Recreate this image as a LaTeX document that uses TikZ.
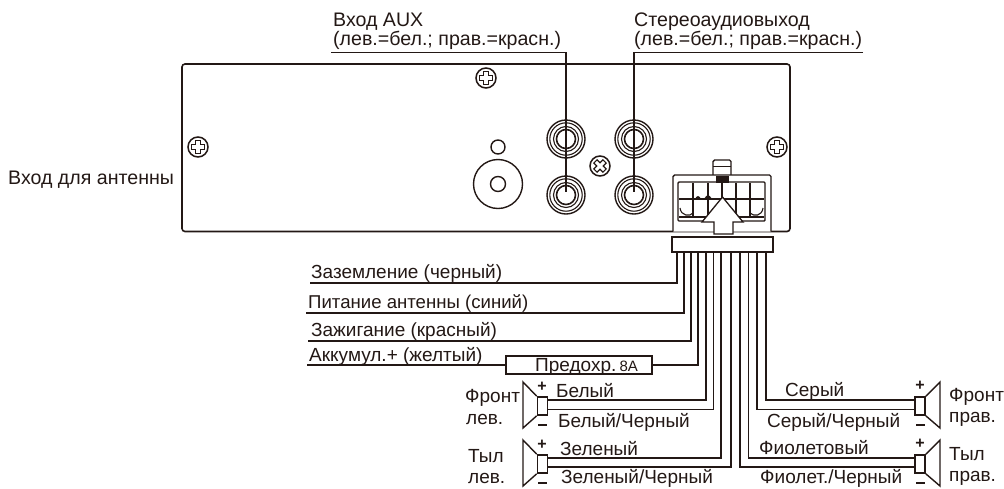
\documentclass[tikz,border=0pt]{standalone}
\usepackage{fontspec}
\setmainfont{Liberation Sans}
\definecolor{ink}{HTML}{231815}
\tikzset{
 lbl/.style={font=\fontsize{19}{21}\selectfont,text=ink,inner sep=0pt,anchor=base west},
 toplbl/.style={lbl,font=\fontsize{19.6}{21}\selectfont},
 wire/.style={draw=ink,line width=1.5pt},
 thick wire/.style={draw=ink,line width=1.9pt},
 part/.style={draw=ink,line width=1.6pt,fill=white},
 ring/.style={draw=ink,line width=1.1pt},
 sign/.style={font=\bfseries\fontsize{16}{18}\selectfont,text=ink,inner sep=0pt},
}
\newcommand{\rcajack}[2]{%
 \draw[ring,line width=1.4pt] (#1) circle (19);
 \draw[ring] (#1) circle (16.2);
 \draw[ring] (#1) circle (12.5);
 \draw[ring,line width=1.6pt] (#1) circle (9.5);
}
\newcommand{\plusscrew}[1]{%
 \draw[ink,line width=1.5pt] (#1) circle (10);
 \draw[ink,line width=1.1pt,shift={(#1)}] (-2.5,-6.5)--(2.5,-6.5)--(2.5,-2.5)--(6.5,-2.5)--(6.5,2.5)--(2.5,2.5)--(2.5,6.5)--(-2.5,6.5)--(-2.5,2.5)--(-6.5,2.5)--(-6.5,-2.5)--(-2.5,-2.5)--cycle;
}
\newcommand{\spkL}[2]{% name, y offset
 \node[part,minimum width=10pt,minimum height=18pt,inner sep=0pt] (#1) at (542.5,406+#2) {};
 \draw[ink,line width=1.4pt] (#1.north west) -- (523,382+#2) -- (523,428+#2) -- (#1.south west);
 \node[sign] (#1p) at (542,387+#2) {+};
 \fill[ink] (538,423.5+#2) rectangle (547,425.5+#2);
}
\newcommand{\spkR}[2]{%
 \node[part,minimum width=10pt,minimum height=18pt,inner sep=0pt] (#1) at (920,406+#2) {};
 \draw[ink,line width=1.4pt] (#1.north east) -- (940,382+#2) -- (940,428+#2) -- (#1.south east);
 \node[sign] (#1p) at (920,386+#2) {+};
 \fill[ink] (916,423.5+#2) rectangle (925,425.5+#2);
}
\begin{document}
\begin{tikzpicture}[x=1pt,y=-1pt]
\useasboundingbox (0,0) rectangle (1004,488);
% panel
\draw[ink,line width=1.6pt,rounded corners=3pt] (182,64) rectangle (790,231.5);
\plusscrew{486,78}
\plusscrew{198,147}
\plusscrew{777,147}
% X screw
\draw[ink,line width=1.5pt] (600,166) circle (10);
\draw[ink,line width=1.1pt,shift={(600,166)},rotate=45] (-2.3,-6.5)--(2.3,-6.5)--(2.3,-2.3)--(6.5,-2.3)--(6.5,2.3)--(2.3,2.3)--(2.3,6.5)--(-2.3,6.5)--(-2.3,2.3)--(-6.5,2.3)--(-6.5,-2.3)--(-2.3,-2.3)--cycle;
% antenna
\draw[ink,line width=1.4pt] (498,147) circle (7);
\draw[ink,line width=1.4pt] (498,184) circle (24.5);
\draw[ink,line width=1.4pt] (498,184) circle (7.5);
% RCA
\rcajack{566,139}{}
\rcajack{566,195}{}
\rcajack{634,139}{}
\rcajack{634,195}{}
% labels top
\node[toplbl] (aux1) at (333,26) {Вход AUX};
\node[toplbl] (aux2) at (333,45) {(лев.=бел.; прав.=красн.)};
\node[toplbl] (st1) at (634,26) {Стереоаудиовыход};
\node[toplbl] (st2) at (634,45) {(лев.=бел.; прав.=красн.)};
\coordinate (auxL) at (331,52.5);
\coordinate (auxR) at (566,52.5);
\coordinate (stL) at (634,52.5);
\coordinate (stR) at (863,52.5);
\coordinate (auxEnd) at (566,192);
\coordinate (stEnd) at (634,192);
\draw[wire] (auxL) -- (auxR) -- (auxEnd);
\draw[wire] (stR) -- (stL) -- (stEnd);
\node[toplbl] (ant) at (8,184) {Вход для антенны};
% connector housing
\draw[part,line width=1.4pt,rounded corners=1.5pt] (713,175) -- (713,160) -- (731,160) -- (731,175);
\draw[ink,line width=1pt] (713,166.5) -- (731,166.5);
\draw[ink,line width=1.4pt,rounded corners=1.5pt,fill=white] (673,231.5) -- (673,175) -- (771,175) -- (771,231.5);
\draw[ink,line width=1.4pt,rounded corners=1pt] (678,182) rectangle (765,221);
\fill[ink] (716,176) rectangle (729,183);
\foreach \x in {693,708,722,736,750} \draw[ink,line width=1.5pt] (\x,183) -- (\x,217);
\draw[ink,line width=1.3pt] (679,199) -- (764,199);
\draw[ink,line width=1.3pt] (679,217) -- (764,217);
\draw[ink,line width=1.1pt] (680,208) .. controls (681,216) and (690,217) .. (693,213);
\draw[ink,line width=1.1pt] (750,213) .. controls (754,217) and (762,216) .. (763,208);
\fill[ink] (695,199) .. controls (696,197) and (697,196) .. (698,196) .. controls (699,196) and (700,197) .. (701,199) -- cycle;
\fill[ink] (704,199) .. controls (705,197) and (707,195) .. (708,195) .. controls (709,195) and (711,197) .. (712,199) -- cycle;
% arrow
\draw[ink,line width=1.3pt,fill=white] (722.5,197) -- (743,222) -- (733,222) -- (733,234) -- (714,234) -- (714,222) -- (702,222) -- cycle;
% plug
\node[part,minimum width=101pt,minimum height=15pt,inner sep=0pt] (plug) at (722.5,244.5) {};
\coordinate (p1) at (677,252);
\coordinate (p2) at (684,252);
\coordinate (p3) at (691,252);
\coordinate (p4) at (698,252);
\coordinate (p5) at (706,252);
\coordinate (p6) at (713.5,252);
\coordinate (p7) at (721,252);
\coordinate (p8) at (731,252);
\coordinate (p9) at (740,252);
\coordinate (p10) at (748.5,252);
\coordinate (p11) at (757,252);
\coordinate (p12) at (766,252);
% left labelled wires
\coordinate (e1) at (310,283);
\coordinate (e2) at (306,313);
\coordinate (e3) at (308,341);
\coordinate (e4) at (307,365);
\draw[wire] (p1) |- (e1);
\draw[wire] (p2) |- (e2);
\draw[thick wire] (p3) |- (e3);
\node[lbl] (gnd) at (311,278) {Заземление (черный)};
\node[lbl,font=\fontsize{18.6}{21}\selectfont] (antp) at (308,308) {Питание антенны (синий)};
\node[lbl] (ign) at (311,336) {Зажигание (красный)};
\node[lbl] (bat) at (309,361) {Аккумул.+ (желтый)};
% fuse
\node[part,minimum width=146pt,minimum height=18pt,inner sep=0pt] (fuse) at (579,365) {};
\node[lbl] (ftxt) at (535,371.5) {Предохр.\,{\fontsize{15}{17}\selectfont 8А}};
\draw[wire] (e4) -- (fuse.west);
\draw[wire] (p4) |- (fuse.east);
% speakers
\spkL{fl}{0}
\spkL{rl}{58}
\spkR{fr}{0}
\spkR{rr}{58}
\draw[thick wire] (p5) |- (fl.east |- 0,400);
\draw[wire] (p6) |- (fl.east |- 0,409.5);
\draw[thick wire] (p7) |- (rl.east |- 0,458);
\draw[thick wire] (p8) |- (rl.east |- 0,467);
\draw[wire] (p9) |- (rr.west |- 0,467);
\draw[wire] (p10) |- (rr.west |- 0,458);
\draw[wire] (p11) |- (fr.west |- 0,409.5);
\draw[wire] (p12) |- (fr.west |- 0,400);
% speaker labels
\node[lbl] (t1) at (556,397) {Белый};
\node[lbl] (t2) at (558,427) {Белый/Черный};
\node[lbl] (t3) at (560,455) {Зеленый};
\node[lbl] (t4) at (561,483.5) {Зеленый/Черный};
\node[lbl] (t5) at (785,396) {Серый};
\node[lbl] (t6) at (767,427) {Серый/Черный};
\node[lbl] (t7) at (759,454) {Фиолетовый};
\node[lbl] (t8) at (760,483.5) {Фиолет./Черный};
\node[lbl] (l1) at (465,402) {Фронт};
\node[lbl] (l2) at (466,424) {лев.};
\node[lbl] (l3) at (468,462) {Тыл};
\node[lbl] (l4) at (468,483) {лев.};
\node[lbl] (r1) at (949,401.5) {Фронт};
\node[lbl] (r2) at (949,422) {прав.};
\node[lbl] (r3) at (949,460) {Тыл};
\node[lbl] (r4) at (949,481) {прав.};
\end{tikzpicture}
\end{document}
